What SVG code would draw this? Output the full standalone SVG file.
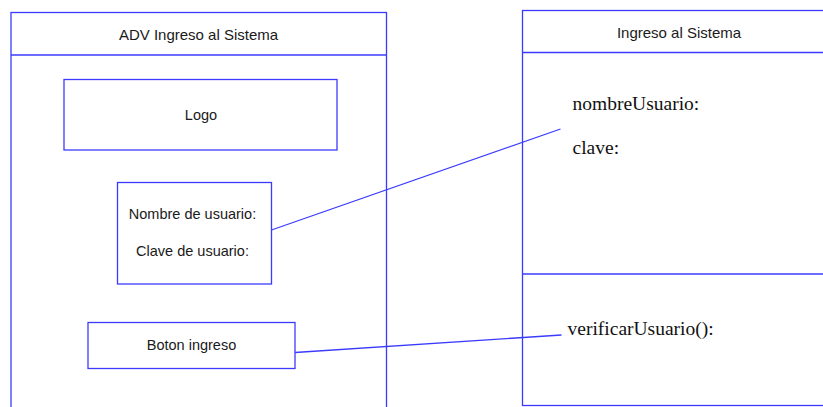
<svg xmlns="http://www.w3.org/2000/svg" width="823" height="407" viewBox="0 0 823 407">
  <style>
    .frame { fill: #ffffff; stroke: #3b3bff; stroke-width: 1.3; }
    .edge { fill: none; stroke: #3b3bff; stroke-width: 1.3; }
    .sans { font-family: "Liberation Sans", Arial, sans-serif; font-size: 14.5px; fill: #1a1a1a; text-anchor: middle; }
    .head { font-size: 15px; }
    .serif { font-family: "Liberation Serif", "Times New Roman", serif; font-size: 19.5px; fill: #111111; }
  </style>
  <rect x="0" y="0" width="823" height="407" fill="#ffffff"/>

  <!-- screen mock-up -->
  <g id="adv-ingreso">
    <rect class="frame" x="11" y="12.5" width="375.5" height="400"/>
    <line class="edge" x1="11" y1="55" x2="386.5" y2="55"/>
    <text class="sans head" x="198.5" y="40">ADV Ingreso al Sistema</text>
  </g>

  <g id="logo">
    <rect class="frame" x="64" y="79.5" width="273" height="70.5"/>
    <text class="sans" x="201" y="120">Logo</text>
  </g>

  <g id="credenciales">
    <rect class="frame" x="117.5" y="182.5" width="154" height="101.5"/>
    <text class="sans" x="192.5" y="219">Nombre de usuario:</text>
    <text class="sans" x="192.5" y="256">Clave de usuario:</text>
  </g>

  <g id="boton-ingreso">
    <rect class="frame" x="88" y="322.5" width="207" height="46"/>
    <text class="sans" x="191.5" y="349.5">Boton ingreso</text>
  </g>

  <!-- class box -->
  <g id="clase-ingreso">
    <rect class="frame" x="522.5" y="10.5" width="310" height="395"/>
    <line class="edge" x1="522.5" y1="52.5" x2="830" y2="52.5"/>
    <line class="edge" x1="522.5" y1="274" x2="830" y2="274"/>
    <text class="sans head" x="679" y="37.5">Ingreso al Sistema</text>
    <text class="serif" x="572.5" y="109.5">nombreUsuario:</text>
    <text class="serif" x="572.5" y="153.5">clave:</text>
    <text class="serif" x="567.5" y="335">verificarUsuario():</text>
  </g>

  <!-- connectors -->
  <g id="conectores">
    <line class="edge" x1="271.5" y1="230" x2="560.5" y2="129"/>
    <line class="edge" x1="295" y1="352.5" x2="561.5" y2="335"/>
  </g>
</svg>
